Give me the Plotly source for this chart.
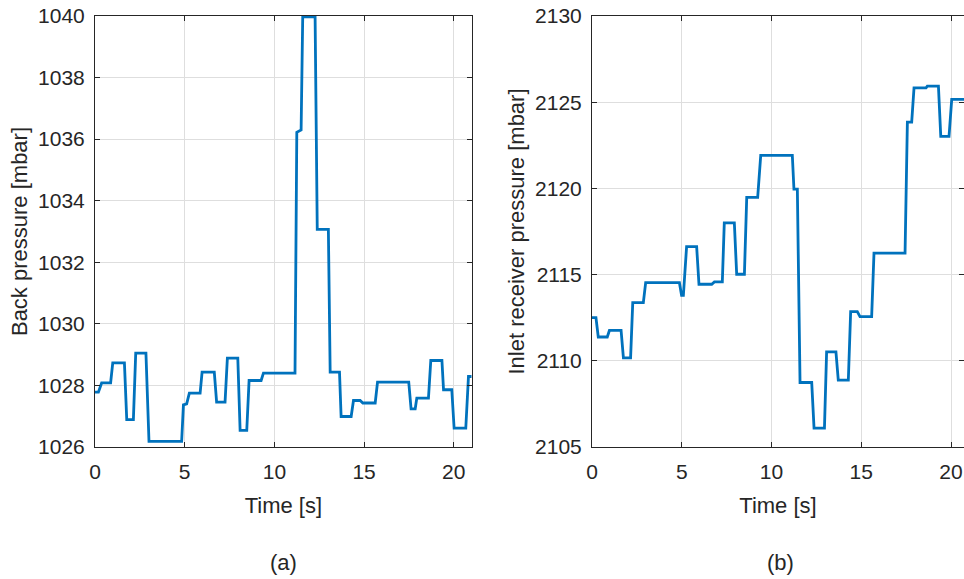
import plotly.graph_objects as go

# Panel (a): back pressure, corner points
t_back = [0, 0.19, 0.37, 0.87, 0.99, 1.64, 1.77, 2.14, 2.27, 2.84, 3.01, 4.83, 4.93, 5.11, 5.26,
          5.86, 5.97, 6.65, 6.78, 7.25, 7.38, 7.96, 8.09, 8.46, 8.59, 9.26, 9.39, 11.15, 11.25,
          11.49, 11.58, 12.27, 12.39, 13.01, 13.11, 13.63, 13.72, 14.28, 14.41, 14.78, 14.93,
          15.62, 15.75, 17.49, 17.62, 17.85, 17.94, 18.59, 18.72, 19.34, 19.43, 19.89, 20.02,
          20.67, 20.82, 21.0]
p_back = [1027.78, 1027.78, 1028.08, 1028.08, 1028.73, 1028.73, 1026.89, 1026.89, 1029.05,
          1029.05, 1026.18, 1026.18, 1027.37, 1027.40, 1027.75, 1027.75, 1028.43, 1028.43,
          1027.46, 1027.46, 1028.89, 1028.89, 1026.54, 1026.54, 1028.16, 1028.16, 1028.40,
          1028.40, 1036.22, 1036.30, 1039.97, 1039.97, 1033.07, 1033.07, 1028.43, 1028.43,
          1026.99, 1026.99, 1027.51, 1027.51, 1027.43, 1027.43, 1028.11, 1028.11, 1027.24,
          1027.24, 1027.59, 1027.59, 1028.81, 1028.81, 1027.86, 1027.86, 1026.61, 1026.61,
          1028.29, 1028.29]

# Panel (b): inlet receiver pressure
t_inlet = [0, 0.22, 0.35, 0.85, 0.97, 1.62, 1.75, 2.15, 2.27, 2.86, 2.99, 4.87, 4.99, 5.09, 5.27,
           5.83, 5.96, 6.67, 6.82, 7.26, 7.37, 7.93, 8.06, 8.49, 8.62, 9.23, 9.40, 11.16, 11.25,
           11.44, 11.59, 12.24, 12.37, 12.95, 13.07, 13.59, 13.72, 14.28, 14.41, 14.78, 14.93,
           15.58, 15.71, 17.44, 17.57, 17.81, 17.94, 18.61, 18.68, 19.30, 19.43, 19.89, 20.04, 21.0]
p_inlet = [2112.5, 2112.5, 2111.38, 2111.38, 2111.76, 2111.76, 2110.17, 2110.17, 2113.37,
           2113.37, 2114.53, 2114.53, 2113.80, 2113.80, 2116.62, 2116.62, 2114.44, 2114.44,
           2114.58, 2114.58, 2118.0, 2118.0, 2115.02, 2115.02, 2119.48, 2119.48, 2121.92,
           2121.92, 2119.96, 2119.96, 2108.74, 2108.74, 2106.1, 2106.1, 2110.52, 2110.52,
           2108.88, 2108.88, 2112.85, 2112.85, 2112.56, 2112.56, 2116.24, 2116.24, 2123.84,
           2123.84, 2125.83, 2125.83, 2125.93, 2125.93, 2123.02, 2123.02, 2125.16, 2125.16]

x_ticks = [0, 5, 10, 15, 20]
back_ticks = [1026, 1028, 1030, 1032, 1034, 1036, 1038, 1040]
inlet_ticks = [2105, 2110, 2115, 2120, 2125, 2130]

W, H = 964, 579
line_color = "#0072BD"
axis_color = "#262626"
grid_color = "#dedede"
font_family = "Liberation Sans, Arial, sans-serif"
tick_size = 21
title_size = 22

fig = go.Figure()
fig.add_trace(go.Scatter(x=t_back, y=p_back, mode="lines", xaxis="x", yaxis="y",
                         line=dict(color=line_color, width=2.8), showlegend=False))
fig.add_trace(go.Scatter(x=t_inlet, y=p_inlet, mode="lines", xaxis="x2", yaxis="y2",
                         line=dict(color=line_color, width=2.8), showlegend=False))

ydom = [1 - 447 / H, 1 - 16 / H]

def xaxis(dom, rng, anchor):
    return dict(domain=dom, range=rng, anchor=anchor, tickvals=x_ticks,
                showgrid=True, gridcolor=grid_color, gridwidth=1,
                showline=True, linecolor=axis_color, linewidth=1, mirror="ticks",
                ticks="inside", ticklen=5, tickcolor=axis_color,
                tickfont=dict(size=tick_size, color=axis_color, family=font_family),
                title=dict(text="Time [s]", font=dict(size=title_size, color=axis_color, family=font_family),
                           standoff=15),
                zeroline=False, automargin=False, ticklabelstandoff=6)

def yaxis(rng, ticks, title, anchor):
    return dict(domain=ydom, range=rng, anchor=anchor, tickvals=ticks,
                showgrid=True, gridcolor=grid_color, gridwidth=1,
                showline=True, linecolor=axis_color, linewidth=1, mirror="ticks",
                ticks="inside", ticklen=5, tickcolor=axis_color,
                tickfont=dict(size=tick_size, color=axis_color, family=font_family),
                title=dict(text=title, font=dict(size=title_size, color=axis_color, family=font_family),
                           standoff=4),
                zeroline=False, automargin=False, ticklabelstandoff=5)

fig.update_layout(
    width=W, height=H,
    margin=dict(l=0, r=0, t=0, b=0),
    paper_bgcolor="white", plot_bgcolor="white",
    xaxis=xaxis([95 / W, 471.7 / W], [0, 21], "y"),
    yaxis=yaxis([1026, 1040], back_ticks, "Back pressure [mbar]", "x"),
    xaxis2=xaxis([592 / W, 1.0], [0, (964 - 592) / 17.95], "y2"),
    yaxis2=yaxis([2105, 2130], inlet_ticks, "Inlet receiver pressure [mbar]", "x2"),
    annotations=[
        dict(text="(a)", x=283.5 / W, y=1 - 562 / H, xref="paper", yref="paper",
             xanchor="center", yanchor="middle",
             showarrow=False, font=dict(size=title_size, color=axis_color, family=font_family)),
        dict(text="(b)", x=780 / W, y=1 - 562 / H, xref="paper", yref="paper",
             xanchor="center", yanchor="middle",
             showarrow=False, font=dict(size=title_size, color=axis_color, family=font_family)),
    ],
)

fig.write_html("out.html")
